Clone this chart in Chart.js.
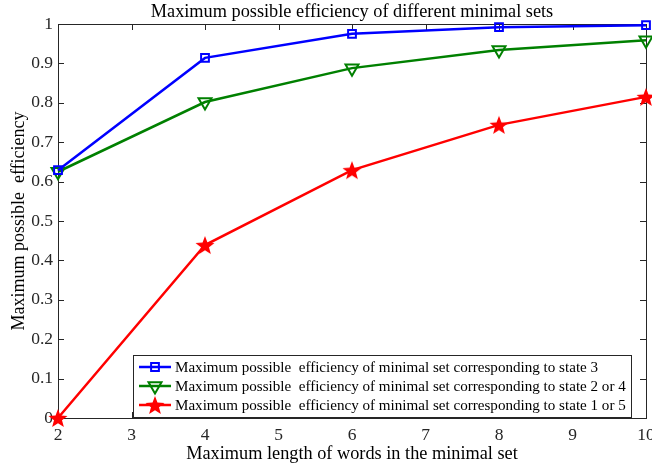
<!DOCTYPE html>
<html>
<head>
<meta charset="utf-8">
<script src="https://cdn.jsdelivr.net/npm/chart.js@4"></script>
<style>
  html, body { margin: 0; padding: 0; background: #fff; }
  #wrap { width: 652px; height: 465px; }
</style>
</head>
<body>
<div id="wrap"><canvas id="chart" width="652" height="465"></canvas></div>
<script>
// data
const wordLengths = [2, 4, 6, 8, 10];
const state3 = [0.629, 0.914, 0.975, 0.992, 0.997];
const state2or4 = [0.625, 0.802, 0.888, 0.934, 0.959];
const state1or5 = [0, 0.439, 0.629, 0.744, 0.815];
const seriesNames = [
  "Maximum possible  efficiency of minimal set corresponding to state 3",
  "Maximum possible  efficiency of minimal set corresponding to state 2 or 4",
  "Maximum possible  efficiency of minimal set corresponding to state 1 or 5"
];
const chartTitle = "Maximum possible efficiency of different minimal sets";
const xTitle = "Maximum length of words in the minimal set";
const yTitle = "Maximum possible  efficiency";

const serif = "'Liberation Serif', 'Times New Roman', serif";
const axisColor = "#262626";

// filled five point star used as the red marker
function makeStar(r, color) {
  const c = document.createElement("canvas");
  c.width = c.height = r * 2 + 2;
  const g = c.getContext("2d");
  g.fillStyle = color;
  g.beginPath();
  for (let i = 0; i < 10; i++) {
    const rad = i % 2 === 0 ? r : r * 0.42;
    const a = -Math.PI / 2 + i * Math.PI / 5;
    const px = r + 1 + rad * Math.cos(a), py = r + 1 + rad * Math.sin(a) + 1;
    if (i === 0) g.moveTo(px, py); else g.lineTo(px, py);
  }
  g.closePath();
  g.fill();
  return c;
}
const starImg = makeStar(10, "#ff0000");

function toPoints(vals) {
  return vals.map((v, i) => ({ x: wordLengths[i], y: v }));
}

const datasets = [
  {
    label: seriesNames[0], data: toPoints(state3),
    borderColor: "#0000ff", backgroundColor: "rgba(0,0,0,0)",
    borderWidth: 2.5, pointStyle: "rect", pointRadius: 5.5,
    pointBorderWidth: 2, pointBorderColor: "#0000ff", clip: false
  },
  {
    label: seriesNames[1], data: toPoints(state2or4),
    borderColor: "#008000", backgroundColor: "rgba(0,0,0,0)",
    borderWidth: 2.5, pointStyle: "triangle", pointRotation: 180, pointRadius: 7.5,
    pointBorderWidth: 2, pointBorderColor: "#008000", clip: false
  },
  {
    label: seriesNames[2], data: toPoints(state1or5),
    borderColor: "#ff0000", backgroundColor: "rgba(0,0,0,0)",
    borderWidth: 2.5, pointStyle: starImg, pointRadius: 10, clip: false
  }
];

// box, inward ticks, title and legend in the MATLAB look
const matlabFrame = {
  id: "matlabFrame",
  beforeDatasetsDraw(chart) {
    const ctx = chart.ctx;
    const a = chart.chartArea;
    const xs = chart.scales.x, ys = chart.scales.y;
    ctx.save();
    ctx.strokeStyle = axisColor;
    ctx.lineWidth = 1;
    ctx.strokeRect(Math.round(a.left) + 0.5, Math.round(a.top) + 0.5,
      Math.round(a.right - a.left), Math.round(a.bottom - a.top));
    const t = 6;
    xs.ticks.forEach(tk => {
      const px = Math.round(xs.getPixelForValue(tk.value)) + 0.5;
      ctx.beginPath();
      ctx.moveTo(px, a.bottom); ctx.lineTo(px, a.bottom - t);
      ctx.moveTo(px, a.top); ctx.lineTo(px, a.top + t);
      ctx.stroke();
    });
    ys.ticks.forEach(tk => {
      const py = Math.round(ys.getPixelForValue(tk.value)) + 0.5;
      ctx.beginPath();
      ctx.moveTo(a.left, py); ctx.lineTo(a.left + t, py);
      ctx.moveTo(a.right, py); ctx.lineTo(a.right - t, py);
      ctx.stroke();
    });

    // title
    ctx.fillStyle = "#000";
    ctx.font = "18.3px " + serif;
    ctx.textAlign = "center";
    ctx.textBaseline = "middle";
    ctx.fillText(chartTitle, (a.left + a.right) / 2, 12);
    ctx.restore();
  },
  afterDatasetsDraw(chart) {
    const ctx = chart.ctx;
    ctx.save();
    // legend
    const lx = 133, ly = 355, lw = 498, lh = 62;
    ctx.fillStyle = "#fff";
    ctx.fillRect(lx, ly, lw, lh);
    ctx.strokeStyle = axisColor;
    ctx.lineWidth = 1;
    ctx.strokeRect(lx + 0.5, ly + 0.5, lw, lh);
    ctx.font = "15.1px " + serif;
    ctx.textAlign = "left";
    ctx.textBaseline = "middle";
    datasets.forEach((ds, i) => {
      const ry = 367 + i * 19;
      ctx.strokeStyle = ds.borderColor;
      ctx.lineWidth = 2.5;
      ctx.beginPath();
      ctx.moveTo(139, ry); ctx.lineTo(171, ry);
      ctx.stroke();
      ctx.fillStyle = "rgba(0,0,0,0)";
      ctx.lineWidth = ds.pointBorderWidth || 2;
      Chart.helpers.drawPoint(ctx, {
        pointStyle: ds.pointStyle,
        rotation: ds.pointRotation || 0,
        radius: ds.pointRadius,
        borderWidth: ds.pointBorderWidth || 1
      }, 155, ry);
      ctx.fillStyle = "#000";
      ctx.fillText(ds.label, 175, ry + 1);
    });
    ctx.restore();
  }
};

new Chart(document.getElementById("chart").getContext("2d"), {
  type: "line",
  data: { datasets: datasets },
  plugins: [matlabFrame],
  options: {
    responsive: false,
    animation: false,
    layout: { autoPadding: false, padding: { top: 24, right: 6, left: 0, bottom: 0 } },
    plugins: { legend: { display: false }, tooltip: { enabled: false }, title: { display: false } },
    scales: {
      x: {
        type: "linear", min: 2, max: 10,
        ticks: { stepSize: 1, color: "#262626", font: { family: serif, size: 17.5 }, padding: 7, maxRotation: 0 },
        grid: { display: false, drawTicks: false },
        border: { display: false },
        title: { display: true, text: xTitle, color: "#000", font: { family: serif, size: 18.3 }, padding: { top: 2, bottom: 0 } },
        afterFit(s) { s.height = 47; s.paddingLeft = 0; s.paddingRight = 0; }
      },
      y: {
        min: 0, max: 1,
        ticks: { stepSize: 0.1, color: "#262626", font: { family: serif, size: 17.5 }, padding: 5,
          callback: v => String(Math.round(v * 10) / 10) },
        grid: { display: false, drawTicks: false },
        border: { display: false },
        title: { display: true, text: yTitle, color: "#000", font: { family: serif, size: 18 }, padding: { top: 8, bottom: 0 } },
        afterFit(s) { s.width = 58; s.paddingTop = 0; s.paddingBottom = 0; }
      }
    }
  }
});
</script>
</body>
</html>
